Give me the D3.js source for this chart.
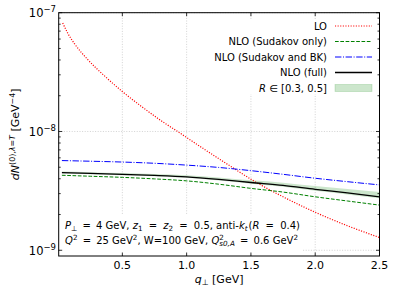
<!DOCTYPE html>
<html><head><meta charset="utf-8">
<script src="https://cdn.jsdelivr.net/npm/d3@7"></script>
<style>
html,body{margin:0;padding:0;background:#fff;}
text{font-family:"DejaVu Sans",sans-serif;fill:#000;}
</style></head>
<body>
<svg id="c" width="399" height="297"></svg>
<script>
// ---- data ----
const qGrid = [0.03, 0.25, 0.5, 0.75, 1.0, 1.25, 1.5, 1.75, 2.0, 2.25, 2.5];
const loQ = [0.036, 0.075, 0.127, 0.231, 0.361, 0.5, 0.647, 0.803, 0.945, 1.127, 1.335, 1.543, 1.75, 2.0, 2.25, 2.5];
const loVals = [8.2e-8, 6.73e-8, 5.5e-8, 4.03e-8, 2.94e-8, 2.17e-8, 1.63e-8, 1.23e-8, 9.75e-9, 7.21e-9, 5.15e-9, 3.72e-9, 2.82e-9, 2.09e-9, 1.61e-9, 1.28e-9];
const sudOnly = [4.28e-9, 4.20e-9, 4.11e-9, 3.99e-9, 3.84e-9, 3.60e-9, 3.32e-9, 3.09e-9, 2.82e-9, 2.60e-9, 2.40e-9];
const sudBK = [5.69e-9, 5.62e-9, 5.53e-9, 5.40e-9, 5.21e-9, 4.98e-9, 4.68e-9, 4.36e-9, 4.04e-9, 3.78e-9, 3.55e-9];
const nloFull = [4.50e-9, 4.44e-9, 4.36e-9, 4.27e-9, 4.15e-9, 3.95e-9, 3.72e-9, 3.52e-9, 3.26e-9, 3.04e-9, 2.82e-9];
const bandUpper = [4.60e-9, 4.54e-9, 4.47e-9, 4.39e-9, 4.29e-9, 4.10e-9, 3.88e-9, 3.71e-9, 3.47e-9, 3.28e-9, 3.10e-9];
const bandLower = [4.42e-9, 4.36e-9, 4.28e-9, 4.19e-9, 4.07e-9, 3.86e-9, 3.63e-9, 3.43e-9, 3.17e-9, 2.95e-9, 2.74e-9];
const xTicks = [0.5, 1.0, 1.5, 2.0, 2.5];
const xTickLabels = ["0.5", "1.0", "1.5", "2.0", "2.5"];
const yTicks = [1e-9, 1e-8, 1e-7];
const yTickExp = ["\u22129", "\u22128", "\u22127"];
const legendLabels = ["LO", "NLO (Sudakov only)", "NLO (Sudakov and BK)", "NLO (full)"];

// ---- layout ----
const L = 58.7, R = 379.5, T = 12.7, B = 256;
const svg = d3.select("#c");
const x = d3.scaleLinear().domain([0.005, 2.5]).range([L, R]);
const y = d3.scaleLog().domain([8.95e-10, 1e-7]).range([B, T]);

// rich text helper
function rich(sel, segs, base) {
  let cur = 0;
  segs.forEach(s => {
    const ts = sel.append("tspan").text(s.t);
    let target = 0, fs = base;
    if (s.k === "sup") { target = -base * 0.4; fs = base * 0.72; }
    if (s.k === "sub") { target = base * 0.22; fs = base * 0.72; }
    ts.attr("dy", target - cur).style("font-size", fs + "px");
    if (s.i) ts.style("font-style", "italic");
    if (s.dx) ts.attr("dx", s.dx);
    cur = target;
  });
}

// grid
const grid = svg.append("g").attr("stroke", "#c8c8c8").attr("stroke-width", 0.8).attr("stroke-dasharray", "1,1.6");
xTicks.forEach(t => grid.append("line").attr("x1", x(t)).attr("x2", x(t)).attr("y1", T).attr("y2", B));
yTicks.forEach(t => grid.append("line").attr("x1", L).attr("x2", R).attr("y1", y(t)).attr("y2", y(t)));

// white boxes (legend & annotation)
svg.append("rect").attr("x", 206).attr("y", 19).attr("width", R - 206 - 1).attr("height", 75).attr("fill", "#fff");
svg.append("rect").attr("x", 61).attr("y", 214).attr("width", 242).attr("height", 40).attr("fill", "#fff");

// band
const area = d3.area().x((d, i) => x(qGrid[i])).y0((d, i) => y(bandLower[i])).y1((d, i) => y(bandUpper[i])).curve(d3.curveMonotoneX);
svg.append("path").attr("d", area(qGrid)).attr("fill", "green").attr("fill-opacity", 0.2);

const line = (xs, ys) => d3.line().x((d, i) => x(xs[i])).y((d, i) => y(ys[i])).curve(d3.curveMonotoneX)(xs);
const styles = [
  {c: "#ff0000", w: 1.2, d: "1.1,1.5"},
  {c: "#008000", w: 1.0, d: "3.7,1.6"},
  {c: "#0000ff", w: 1.0, d: "6.4,1.6,1,1.6"},
  {c: "#000000", w: 1.3, d: null}
];
const series = [[loQ, loVals], [qGrid, sudOnly], [qGrid, sudBK], [qGrid, nloFull]];
series.forEach((s, k) => {
  const p = svg.append("path").attr("d", line(s[0], s[1])).attr("fill", "none")
    .attr("stroke", styles[k].c).attr("stroke-width", styles[k].w);
  if (styles[k].d) p.attr("stroke-dasharray", styles[k].d);
});

// frame
svg.append("rect").attr("x", L).attr("y", T).attr("width", R - L).attr("height", B - T)
  .attr("fill", "none").attr("stroke", "#000").attr("stroke-width", 1);

// ticks
const tk = svg.append("g").attr("stroke", "#000").attr("stroke-width", 0.8);
xTicks.forEach(t => {
  tk.append("line").attr("x1", x(t)).attr("x2", x(t)).attr("y1", B).attr("y2", B - 3.5);
  tk.append("line").attr("x1", x(t)).attr("x2", x(t)).attr("y1", T).attr("y2", T + 3.5);
});
yTicks.forEach(t => {
  tk.append("line").attr("x1", L).attr("x2", L + 3.5).attr("y1", y(t)).attr("y2", y(t));
  tk.append("line").attr("x1", R).attr("x2", R - 3.5).attr("y1", y(t)).attr("y2", y(t));
});
[-9, -8].forEach(d => { for (let k = 2; k <= 9; k++) {
  const v = k * Math.pow(10, d);
  tk.append("line").attr("x1", L).attr("x2", L + 2).attr("y1", y(v)).attr("y2", y(v));
  tk.append("line").attr("x1", R).attr("x2", R - 2).attr("y1", y(v)).attr("y2", y(v));
}});

// tick labels
xTicks.forEach((t, i) => svg.append("text").attr("x", x(t)).attr("y", 268.5).attr("text-anchor", "middle")
  .style("font-size", "11px").text(xTickLabels[i]));
yTicks.forEach((t, i) => {
  const tx = svg.append("text").attr("x", 56).attr("y", y(t) + 4.6).attr("text-anchor", "end").style("font-size", "11.5px");
  tx.append("tspan").text("10");
  tx.append("tspan").attr("dy", -4.8).style("font-size", "8.5px").text(yTickExp[i]);
});

// axis labels
const xl = svg.append("text").attr("x", (L + R) / 2).attr("y", 283).attr("text-anchor", "middle").style("font-size", "11px");
rich(xl, [{t: "q", i: true}, {t: "\u22a5", k: "sub"}, {t: " [GeV]"}], 11);
const yl = svg.append("text").attr("transform", `translate(19,${(T + B) / 2}) rotate(-90)`).attr("text-anchor", "middle").style("font-size", "11px");
rich(yl, [{t: "dN", i: true}, {t: "(0),", k: "sup"}, {t: "\u03bb", k: "sup", i: true}, {t: "=", k: "sup"}, {t: "T", k: "sup", i: true}, {t: " [GeV"}, {t: "\u22124", k: "sup"}, {t: "]"}], 11);

// legend
const rows = [26, 41.5, 57, 72.5, 88];
legendLabels.forEach((lab, k) => {
  svg.append("text").attr("x", 327).attr("y", rows[k] + 3.6).attr("text-anchor", "end").style("font-size", "10px").text(lab);
  const ln = svg.append("line").attr("x1", 335).attr("x2", 372).attr("y1", rows[k]).attr("y2", rows[k])
    .attr("stroke", styles[k].c).attr("stroke-width", styles[k].w);
  if (styles[k].d) ln.attr("stroke-dasharray", styles[k].d);
});
const rl = svg.append("text").attr("x", 327).attr("y", rows[4] + 3.6).attr("text-anchor", "end").style("font-size", "10px");
rich(rl, [{t: "R", i: true}, {t: " \u2208 [0.3, 0.5]"}], 10);
svg.append("rect").attr("x", 335).attr("y", rows[4] - 3.5).attr("width", 37).attr("height", 7)
  .attr("fill", "green").attr("fill-opacity", 0.2).attr("stroke", "green").attr("stroke-opacity", 0.2).attr("stroke-width", 0.8);

// annotation
const a1 = svg.append("text").attr("x", 65).attr("y", 228.5).style("font-size", "10px");
rich(a1, [{t: "P", i: true}, {t: "\u22a5", k: "sub"}, {t: " = ", dx: 2}, {t: "4 GeV, ", dx: 2}, {t: "z", i: true}, {t: "1", k: "sub"},
  {t: " = ", dx: 3}, {t: "z", i: true, dx: 3}, {t: "2", k: "sub"}, {t: " = ", dx: 3}, {t: "0.5, anti-", dx: 3}, {t: "k", i: true}, {t: "t", k: "sub", i: true},
  {t: "(", dx: 1}, {t: "R", i: true}, {t: " = ", dx: 3}, {t: "0.4)", dx: 3}], 10);
const a2 = svg.append("text").attr("x", 65).attr("y", 243.5).style("font-size", "10px");
rich(a2, [{t: "Q", i: true}, {t: "2", k: "sup"}, {t: " = ", dx: 2}, {t: "25 GeV", dx: 2}, {t: "2", k: "sup"}, {t: ", W=100 GeV, "},
  {t: "Q", i: true}, {t: "2", k: "sup"}, {t: "s0,A", k: "sub", i: true, dx: -4.6}, {t: " = ", dx: 2}, {t: "0.6 GeV", dx: 2}, {t: "2", k: "sup"}], 10);
</script>
</body></html>
